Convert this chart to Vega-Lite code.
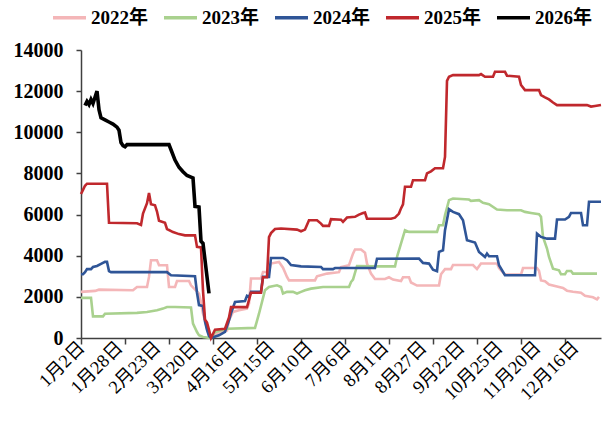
{
  "$schema": "https://vega.github.io/schema/vega-lite/v6.json",
  "width": 520,
  "height": 288,
  "autosize": {"type": "none"},
  "padding": {"left": 81, "top": 50, "right": 7, "bottom": 90},
  "background": "white",
  "config": {
    "view": {"stroke": null},
    "axis": {"grid": false, "domainColor": "#404040", "tickColor": "#404040", "labelColor": "#000000", "labelFont": "Liberation Serif, Noto Sans CJK SC", "title": null},
    "legend": {"labelFont": "Liberation Serif, Noto Sans CJK SC"}
  },
  "datasets": {
    "d": [
      {"s":"2022年","i":0,"v":2240},{"s":"2022年","i":7,"v":2290},{"s":"2022年","i":9,"v":2350},{"s":"2022年","i":26,"v":2320},{"s":"2022年","i":28,"v":2480},{"s":"2022年","i":33,"v":2480},{"s":"2022年","i":34,"v":2970},{"s":"2022年","i":35,"v":3780},{"s":"2022年","i":38,"v":3780},{"s":"2022年","i":39,"v":3540},{"s":"2022年","i":43,"v":3540},{"s":"2022年","i":44,"v":2480},{"s":"2022年","i":47,"v":2480},{"s":"2022年","i":48,"v":2770},{"s":"2022年","i":54,"v":2770},{"s":"2022年","i":55,"v":2560},{"s":"2022年","i":59,"v":2160},{"s":"2022年","i":60,"v":1750},{"s":"2022年","i":61,"v":1180},{"s":"2022年","i":62,"v":860},{"s":"2022年","i":63,"v":450},{"s":"2022年","i":64,"v":130},{"s":"2022年","i":65,"v":50},{"s":"2022年","i":68,"v":210},{"s":"2022年","i":73,"v":370},{"s":"2022年","i":74,"v":860},{"s":"2022年","i":76,"v":1270},{"s":"2022年","i":79,"v":1350},{"s":"2022年","i":83,"v":1430},{"s":"2022年","i":84,"v":1670},{"s":"2022年","i":85,"v":2890},{"s":"2022年","i":90,"v":2890},{"s":"2022年","i":91,"v":3210},{"s":"2022年","i":94,"v":3210},{"s":"2022年","i":95,"v":3620},{"s":"2022年","i":99,"v":3700},{"s":"2022年","i":101,"v":3420},{"s":"2022年","i":103,"v":2970},{"s":"2022年","i":104,"v":2800},{"s":"2022年","i":117,"v":2800},{"s":"2022年","i":118,"v":3000},{"s":"2022年","i":123,"v":3130},{"s":"2022年","i":129,"v":3200},{"s":"2022年","i":130,"v":3450},{"s":"2022年","i":134,"v":3540},{"s":"2022年","i":136,"v":4100},{"s":"2022年","i":137,"v":4300},{"s":"2022年","i":140,"v":4300},{"s":"2022年","i":142,"v":4150},{"s":"2022年","i":143,"v":3620},{"s":"2022年","i":145,"v":3130},{"s":"2022年","i":147,"v":2870},{"s":"2022年","i":152,"v":2870},{"s":"2022年","i":154,"v":2950},{"s":"2022年","i":156,"v":2840},{"s":"2022年","i":160,"v":2770},{"s":"2022年","i":161,"v":2950},{"s":"2022年","i":164,"v":2950},{"s":"2022年","i":165,"v":2700},{"s":"2022年","i":168,"v":2550},{"s":"2022年","i":179,"v":2550},{"s":"2022年","i":180,"v":3100},{"s":"2022年","i":182,"v":3350},{"s":"2022年","i":185,"v":3350},{"s":"2022年","i":186,"v":3550},{"s":"2022年","i":196,"v":3550},{"s":"2022年","i":198,"v":3350},{"s":"2022年","i":200,"v":3620},{"s":"2022年","i":208,"v":3620},{"s":"2022年","i":209,"v":3400},{"s":"2022年","i":212,"v":3080},{"s":"2022年","i":220,"v":3080},{"s":"2022年","i":221,"v":3400},{"s":"2022年","i":228,"v":3400},{"s":"2022年","i":229,"v":3270},{"s":"2022年","i":230,"v":2800},{"s":"2022年","i":232,"v":2760},{"s":"2022年","i":234,"v":2600},{"s":"2022年","i":238,"v":2500},{"s":"2022年","i":241,"v":2430},{"s":"2022年","i":243,"v":2300},{"s":"2022年","i":246,"v":2250},{"s":"2022年","i":250,"v":2200},{"s":"2022年","i":252,"v":2050},{"s":"2022年","i":256,"v":1980},{"s":"2022年","i":258,"v":1880},{"s":"2022年","i":259,"v":2000},

      {"s":"2023年","i":0,"v":1950},{"s":"2023年","i":5,"v":1950},{"s":"2023年","i":6,"v":1050},{"s":"2023年","i":11,"v":1050},{"s":"2023年","i":12,"v":1180},{"s":"2023年","i":28,"v":1220},{"s":"2023年","i":33,"v":1265},{"s":"2023年","i":38,"v":1350},{"s":"2023年","i":41,"v":1430},{"s":"2023年","i":43,"v":1510},{"s":"2023年","i":47,"v":1510},{"s":"2023年","i":55,"v":1480},{"s":"2023年","i":56,"v":700},{"s":"2023年","i":58,"v":290},{"s":"2023年","i":59,"v":130},{"s":"2023年","i":61,"v":50},{"s":"2023年","i":65,"v":0},{"s":"2023年","i":67,"v":290},{"s":"2023年","i":73,"v":450},{"s":"2023年","i":87,"v":490},{"s":"2023年","i":89,"v":1180},{"s":"2023年","i":92,"v":2320},{"s":"2023年","i":94,"v":2480},{"s":"2023年","i":98,"v":2560},{"s":"2023年","i":100,"v":2480},{"s":"2023年","i":101,"v":2160},{"s":"2023年","i":103,"v":2240},{"s":"2023年","i":106,"v":2240},{"s":"2023年","i":108,"v":2160},{"s":"2023年","i":110,"v":2240},{"s":"2023年","i":112,"v":2320},{"s":"2023年","i":115,"v":2400},{"s":"2023年","i":121,"v":2480},{"s":"2023年","i":134,"v":2480},{"s":"2023年","i":135,"v":2720},{"s":"2023年","i":136,"v":2840},{"s":"2023年","i":138,"v":3500},{"s":"2023年","i":148,"v":3480},{"s":"2023年","i":157,"v":3480},{"s":"2023年","i":158,"v":3940},{"s":"2023年","i":162,"v":5240},{"s":"2023年","i":164,"v":5160},{"s":"2023年","i":178,"v":5160},{"s":"2023年","i":179,"v":5480},{"s":"2023年","i":181,"v":5480},{"s":"2023年","i":182,"v":5970},{"s":"2023年","i":184,"v":6700},{"s":"2023年","i":186,"v":6780},{"s":"2023年","i":194,"v":6730},{"s":"2023年","i":195,"v":6665},{"s":"2023年","i":199,"v":6700},{"s":"2023年","i":201,"v":6570},{"s":"2023年","i":204,"v":6500},{"s":"2023年","i":208,"v":6245},{"s":"2023年","i":213,"v":6210},{"s":"2023年","i":220,"v":6210},{"s":"2023年","i":222,"v":6130},{"s":"2023年","i":225,"v":6080},{"s":"2023年","i":229,"v":6020},{"s":"2023年","i":230,"v":5890},{"s":"2023年","i":231,"v":4915},{"s":"2023年","i":233,"v":4350},{"s":"2023年","i":234,"v":3940},{"s":"2023年","i":236,"v":3370},{"s":"2023年","i":239,"v":3290},{"s":"2023年","i":240,"v":3100},{"s":"2023年","i":242,"v":3100},{"s":"2023年","i":243,"v":3260},{"s":"2023年","i":245,"v":3260},{"s":"2023年","i":246,"v":3130},{"s":"2023年","i":258,"v":3130},

      {"s":"2024年","i":0,"v":3100},{"s":"2024年","i":1,"v":3100},{"s":"2024年","i":2,"v":3200},{"s":"2024年","i":3,"v":3350},{"s":"2024年","i":5,"v":3350},{"s":"2024年","i":6,"v":3450},{"s":"2024年","i":8,"v":3500},{"s":"2024年","i":10,"v":3600},{"s":"2024年","i":12,"v":3700},{"s":"2024年","i":13,"v":3700},{"s":"2024年","i":14,"v":3250},{"s":"2024年","i":15,"v":3200},{"s":"2024年","i":43,"v":3200},{"s":"2024年","i":45,"v":3050},{"s":"2024年","i":57,"v":3000},{"s":"2024年","i":58,"v":2200},{"s":"2024年","i":59,"v":1600},{"s":"2024年","i":61,"v":1550},{"s":"2024年","i":62,"v":800},{"s":"2024年","i":63,"v":400},{"s":"2024年","i":64,"v":100},{"s":"2024年","i":65,"v":0},{"s":"2024年","i":69,"v":130},{"s":"2024年","i":72,"v":300},{"s":"2024年","i":74,"v":860},{"s":"2024年","i":75,"v":1200},{"s":"2024年","i":77,"v":1750},{"s":"2024年","i":82,"v":1800},{"s":"2024年","i":83,"v":2050},{"s":"2024年","i":84,"v":2000},{"s":"2024年","i":85,"v":2250},{"s":"2024年","i":90,"v":2250},{"s":"2024年","i":91,"v":2970},{"s":"2024年","i":94,"v":2970},{"s":"2024年","i":95,"v":3890},{"s":"2024年","i":101,"v":3890},{"s":"2024年","i":103,"v":3780},{"s":"2024年","i":105,"v":3550},{"s":"2024年","i":110,"v":3480},{"s":"2024年","i":120,"v":3455},{"s":"2024年","i":121,"v":3350},{"s":"2024年","i":126,"v":3350},{"s":"2024年","i":127,"v":3400},{"s":"2024年","i":147,"v":3400},{"s":"2024年","i":148,"v":3850},{"s":"2024年","i":169,"v":3860},{"s":"2024年","i":171,"v":3650},{"s":"2024年","i":174,"v":3617},{"s":"2024年","i":176,"v":3325},{"s":"2024年","i":178,"v":3250},{"s":"2024年","i":179,"v":4185},{"s":"2024年","i":181,"v":4265},{"s":"2024年","i":182,"v":5240},{"s":"2024年","i":184,"v":6260},{"s":"2024年","i":186,"v":6130},{"s":"2024年","i":189,"v":6020},{"s":"2024年","i":191,"v":5725},{"s":"2024年","i":193,"v":4750},{"s":"2024年","i":197,"v":4640},{"s":"2024年","i":199,"v":4185},{"s":"2024年","i":202,"v":3940},{"s":"2024年","i":203,"v":4100},{"s":"2024年","i":204,"v":3975},{"s":"2024年","i":208,"v":3975},{"s":"2024年","i":209,"v":3535},{"s":"2024年","i":212,"v":3050},{"s":"2024年","i":227,"v":3050},{"s":"2024年","i":228,"v":5077},{"s":"2024年","i":230,"v":4915},{"s":"2024年","i":233,"v":4830},{"s":"2024年","i":237,"v":4830},{"s":"2024年","i":238,"v":5760},{"s":"2024年","i":242,"v":5760},{"s":"2024年","i":244,"v":5890},{"s":"2024年","i":245,"v":6080},{"s":"2024年","i":250,"v":6080},{"s":"2024年","i":251,"v":5480},{"s":"2024年","i":253,"v":5480},{"s":"2024年","i":254,"v":6620},{"s":"2024年","i":260,"v":6620},

      {"s":"2025年","i":0,"v":7000},{"s":"2025年","i":1,"v":7200},{"s":"2025年","i":2,"v":7400},{"s":"2025年","i":3,"v":7500},{"s":"2025年","i":13,"v":7500},{"s":"2025年","i":14,"v":5600},{"s":"2025年","i":28,"v":5580},{"s":"2025年","i":30,"v":5500},{"s":"2025年","i":31,"v":6050},{"s":"2025年","i":33,"v":6550},{"s":"2025年","i":34,"v":7050},{"s":"2025年","i":35,"v":6500},{"s":"2025年","i":37,"v":6450},{"s":"2025年","i":38,"v":6150},{"s":"2025年","i":39,"v":5700},{"s":"2025年","i":42,"v":5600},{"s":"2025年","i":43,"v":5300},{"s":"2025年","i":46,"v":5150},{"s":"2025年","i":49,"v":5050},{"s":"2025年","i":52,"v":4990},{"s":"2025年","i":57,"v":4990},{"s":"2025年","i":58,"v":4430},{"s":"2025年","i":60,"v":4400},{"s":"2025年","i":61,"v":2300},{"s":"2025年","i":62,"v":900},{"s":"2025年","i":63,"v":750},{"s":"2025年","i":64,"v":400},{"s":"2025年","i":65,"v":0},{"s":"2025年","i":67,"v":400},{"s":"2025年","i":72,"v":450},{"s":"2025年","i":74,"v":1000},{"s":"2025年","i":75,"v":1500},{"s":"2025年","i":83,"v":1500},{"s":"2025年","i":85,"v":2200},{"s":"2025年","i":90,"v":2200},{"s":"2025年","i":91,"v":2950},{"s":"2025年","i":93,"v":2950},{"s":"2025年","i":94,"v":4900},{"s":"2025年","i":95,"v":5100},{"s":"2025年","i":97,"v":5300},{"s":"2025年","i":100,"v":5320},{"s":"2025年","i":108,"v":5270},{"s":"2025年","i":110,"v":5190},{"s":"2025年","i":112,"v":5270},{"s":"2025年","i":114,"v":5725},{"s":"2025年","i":118,"v":5725},{"s":"2025年","i":120,"v":5560},{"s":"2025年","i":121,"v":5450},{"s":"2025年","i":124,"v":5450},{"s":"2025年","i":125,"v":5775},{"s":"2025年","i":130,"v":5750},{"s":"2025年","i":131,"v":5645},{"s":"2025年","i":133,"v":5855},{"s":"2025年","i":137,"v":5890},{"s":"2025年","i":139,"v":6000},{"s":"2025年","i":141,"v":6080},{"s":"2025年","i":142,"v":6100},{"s":"2025年","i":143,"v":5800},{"s":"2025年","i":155,"v":5800},{"s":"2025年","i":157,"v":5850},{"s":"2025年","i":159,"v":6050},{"s":"2025年","i":160,"v":6300},{"s":"2025年","i":161,"v":6500},{"s":"2025年","i":162,"v":7350},{"s":"2025年","i":165,"v":7350},{"s":"2025年","i":166,"v":7670},{"s":"2025年","i":172,"v":7670},{"s":"2025年","i":173,"v":8000},{"s":"2025年","i":175,"v":8100},{"s":"2025年","i":177,"v":8250},{"s":"2025年","i":181,"v":8250},{"s":"2025年","i":182,"v":8800},{"s":"2025年","i":183,"v":12500},{"s":"2025年","i":184,"v":12700},{"s":"2025年","i":186,"v":12780},{"s":"2025年","i":199,"v":12780},{"s":"2025年","i":200,"v":12830},{"s":"2025年","i":202,"v":12700},{"s":"2025年","i":206,"v":12700},{"s":"2025年","i":207,"v":12940},{"s":"2025年","i":212,"v":12940},{"s":"2025年","i":213,"v":12750},{"s":"2025年","i":219,"v":12700},{"s":"2025年","i":220,"v":12300},{"s":"2025年","i":222,"v":12050},{"s":"2025年","i":229,"v":12050},{"s":"2025年","i":230,"v":11810},{"s":"2025年","i":232,"v":11700},{"s":"2025年","i":234,"v":11600},{"s":"2025年","i":236,"v":11450},{"s":"2025年","i":238,"v":11320},{"s":"2025年","i":253,"v":11320},{"s":"2025年","i":255,"v":11250},{"s":"2025年","i":257,"v":11280},{"s":"2025年","i":260,"v":11330},

      {"s":"2026年","i":2,"v":11300},{"s":"2026年","i":3,"v":11500},{"s":"2026年","i":4,"v":11350},{"s":"2026年","i":5,"v":11600},{"s":"2026年","i":6,"v":11400},{"s":"2026年","i":7,"v":11700},{"s":"2026年","i":8,"v":12000},{"s":"2026年","i":9,"v":11100},{"s":"2026年","i":10,"v":10700},{"s":"2026年","i":12,"v":10600},{"s":"2026年","i":14,"v":10500},{"s":"2026年","i":16,"v":10400},{"s":"2026年","i":18,"v":10250},{"s":"2026年","i":19,"v":10100},{"s":"2026年","i":20,"v":9500},{"s":"2026年","i":21,"v":9350},{"s":"2026年","i":22,"v":9300},{"s":"2026年","i":23,"v":9400},{"s":"2026年","i":44,"v":9400},{"s":"2026年","i":45,"v":9150},{"s":"2026年","i":47,"v":8650},{"s":"2026年","i":49,"v":8300},{"s":"2026年","i":51,"v":8080},{"s":"2026年","i":53,"v":7900},{"s":"2026年","i":55,"v":7820},{"s":"2026年","i":56,"v":7780},{"s":"2026年","i":57,"v":6400},{"s":"2026年","i":59,"v":6370},{"s":"2026年","i":60,"v":4700},{"s":"2026年","i":61,"v":4600},{"s":"2026年","i":64,"v":2170}
    ]
  },
  "data": {"name": "d"},
  "encoding": {
    "y": {"field": "v", "type": "quantitative", "scale": {"domain": [0, 14000], "nice": false, "zero": true},
      "axis": {"values": [0,2000,4000,6000,8000,10000,12000,14000], "format": "d", "tickSize": 5, "labelFontSize": 20, "labelFontWeight": "bold", "labelPadding": 13, "domainWidth": 1.5, "tickWidth": 1.5}},
    "color": {"field": "s", "type": "nominal",
      "scale": {"domain": ["2022年","2023年","2024年","2025年","2026年"], "range": ["#F4B6B8","#A9D18E","#2F5597","#C0282D","#000000"]},
      "legend": {"orient": "none", "legendX": -30, "legendY": -51, "direction": "horizontal", "title": null, "symbolType": "stroke", "symbolSize": 1089, "symbolStrokeWidth": 3.5, "labelFontSize": 19, "labelFontWeight": "bold", "labelOffset": 3, "columnPadding": 8, "labelColor": "#000000"}}
  },
  "resolve": {"scale": {"x": "shared"}, "axis": {"x": "independent"}},
  "layer": [
    {
      "transform": [{"filter": "datum.s !== '2025年' && datum.s !== '2026年'"}],
      "mark": {"type": "line", "strokeWidth": 2.6, "interpolate": "linear"},
      "encoding": {
        "x": {"field": "i", "type": "quantitative", "scale": {"domain": [0, 260], "nice": false, "zero": false},
          "axis": {"orient": "bottom", "values": [0,22,44,66,88,110,132,154,176,198,220,242], "labels": false, "tickSize": 6, "domainWidth": 1.5, "tickWidth": 1.5}}
      }
    },
    {
      "transform": [{"filter": "datum.s === '2025年'"}],
      "mark": {"type": "line", "strokeWidth": 2.6, "interpolate": "linear"},
      "encoding": {
        "x": {"field": "i", "type": "quantitative",
          "axis": {"orient": "bottom", "values": [0,19,38,57,76,95,114,133,152,171,190,209,228,247], "ticks": false, "domain": false, "labelAngle": -45, "labelAlign": "right", "labelBaseline": "middle", "labelFontSize": 18.5, "labelPadding": 6, "labelDx": 3, "labelOverlap": false,
            "labelExpr": "['1月2日','1月28日','2月23日','3月20日','4月16日','5月15日','6月10日','7月6日','8月1日','8月27日','9月22日','10月25日','11月20日','12月16日'][round(datum.value/19)]"}}
      }
    },
    {
      "transform": [{"filter": "datum.s === '2026年'"}],
      "mark": {"type": "line", "strokeWidth": 3.6, "interpolate": "linear"},
      "encoding": {
        "x": {"field": "i", "type": "quantitative", "axis": null}
      }
    }
  ]
}
